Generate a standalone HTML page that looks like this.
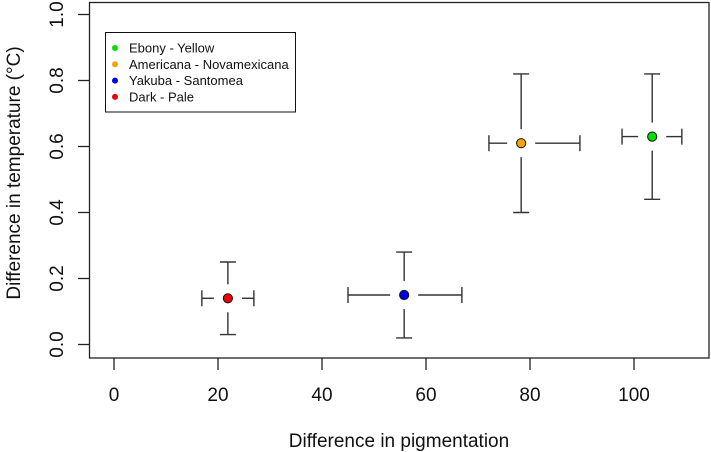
<!DOCTYPE html>
<html><head><meta charset="utf-8"><style>
body{margin:0;background:#fff}
svg{display:block;font-family:"Liberation Sans",Arial,sans-serif}
</style></head><body>
<svg id="chart" width="711" height="452" viewBox="0 0 711 452" xmlns="http://www.w3.org/2000/svg">
<rect x="89.5" y="2.5" width="619.5" height="355.5" fill="none" stroke="#222" stroke-width="1.3"/>
<g id="axes"></g>
<g id="marks"></g>
<text x="399" y="447" font-size="19" text-anchor="middle" fill="#111">Difference in pigmentation</text>
<text transform="translate(20,173) rotate(-90)" font-size="19" text-anchor="middle" fill="#111">Difference in temperature (°C)</text>
<g>
<rect x="105.5" y="32.5" width="190" height="79.5" fill="#fff" stroke="#111" stroke-width="1"/>
<g id="legend-items"></g>
</g>
</svg>
<script>
const groups=["Ebony - Yellow","Americana - Novamexicana","Yakuba - Santomea","Dark - Pale"];
const colors=["#00e000","#f5a500","#0000ee","#ee0000"];
const xVals=[103.5,78.3,55.8,21.9];
const xLow=[97.7,72.1,45.0,16.9];
const xHigh=[109.2,89.6,66.9,26.9];
const yVals=[0.63,0.61,0.15,0.14];
const yLow=[0.44,0.40,0.02,0.03];
const yHigh=[0.82,0.82,0.28,0.25];
const xTicks=[0,20,40,60,80,100];
const yTicks=[0.0,0.2,0.4,0.6,0.8,1.0];
const yTickLabels=["0.0","0.2","0.4","0.6","0.8","1.0"];

const X=v=>114+v*5.2;
const Y=v=>344.5-v*330;
const NS="http://www.w3.org/2000/svg";
function mk(tag,attrs,parent){const e=document.createElementNS(NS,tag);for(const k in attrs)e.setAttribute(k,attrs[k]);parent.appendChild(e);return e;}
const axes=document.getElementById('axes');
xTicks.forEach(t=>{
  const l=mk('line',{x1:X(t),x2:X(t),y1:358,y2:370,stroke:'#222','stroke-width':1.3},axes);
  
  
  const tx=mk('text',{x:X(t),y:401,'font-size':19,'text-anchor':'middle',fill:'#111'},axes);
  tx.textContent=t;
  
  
});
yTicks.forEach((t,i)=>{
  const l=mk('line',{x1:78,x2:89.5,y1:Y(t),y2:Y(t),stroke:'#222','stroke-width':1.3},axes);
  
  
  const tx=mk('text',{transform:`translate(63,${Y(t)}) rotate(-90)`,'font-size':19,'text-anchor':'middle',fill:'#111'},axes);
  tx.textContent=yTickLabels[i];
  
  
});
const marks=document.getElementById('marks');
const gap=14,cap=8;
groups.forEach((g,i)=>{
  const cx=X(xVals[i]),cy=Y(yVals[i]);
  const grp=mk('g',{stroke:'#333','stroke-width':1.4,fill:'none'},marks);
  
  
  const xl=X(xLow[i]),xh=X(xHigh[i]),yl=Y(yLow[i]),yh=Y(yHigh[i]);
  mk('line',{x1:xl,x2:cx-gap,y1:cy,y2:cy},grp);
  mk('line',{x1:cx+gap,x2:xh,y1:cy,y2:cy},grp);
  mk('line',{x1:xl,x2:xl,y1:cy-cap,y2:cy+cap},grp);
  mk('line',{x1:xh,x2:xh,y1:cy-cap,y2:cy+cap},grp);
  mk('line',{x1:cx,x2:cx,y1:yh,y2:cy-gap},grp);
  mk('line',{x1:cx,x2:cx,y1:cy+gap,y2:yl},grp);
  mk('line',{x1:cx-cap,x2:cx+cap,y1:yh,y2:yh},grp);
  mk('line',{x1:cx-cap,x2:cx+cap,y1:yl,y2:yl},grp);
  const p=mk('circle',{cx:cx,cy:cy,r:4.6,fill:colors[i],stroke:'#111','stroke-width':1},marks);
  
  
});
const leg=document.getElementById('legend-items');
groups.forEach((g,i)=>{
  const y=48+i*16.3;
  const d=mk('circle',{cx:115,cy:y,r:3,fill:colors[i]},leg);
  
  
  const t=mk('text',{x:129,y:y+4.5,'font-size':13,fill:'#111'},leg);
  t.textContent=g;
  
  
});
</script>
</body></html>
